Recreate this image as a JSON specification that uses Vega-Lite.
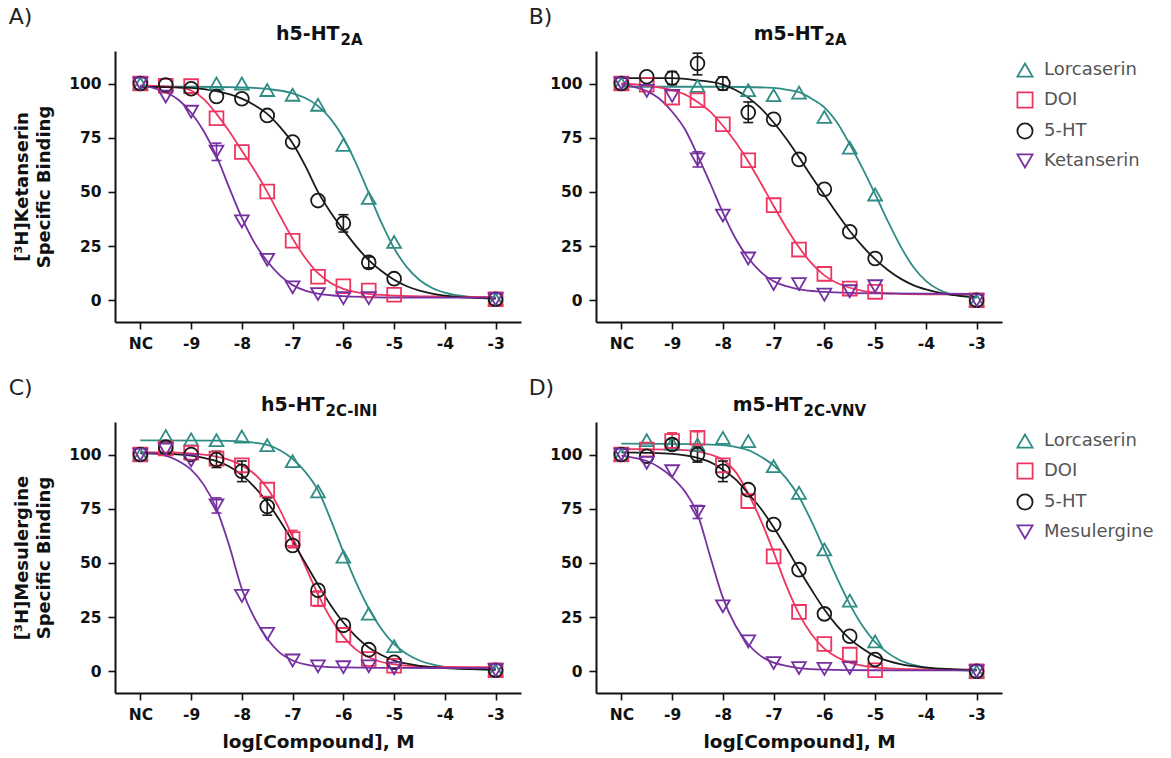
{
"$schema": "https://vega.github.io/schema/vega-lite/v6.json",
"background": "white",
"padding": {"left": 8, "top": 6, "right": 5, "bottom": 5},
"spacing": 25,
"config": {
  "view": {"stroke": null},
  "font": "DejaVu Sans",
  "axis": {"grid": false, "domainColor": "#111", "domainWidth": 2, "tickColor": "#111", "tickWidth": 1.6, "tickSize": 7, "labelFont": "DejaVu Sans", "labelFontWeight": "bold", "labelFontSize": 15.5, "labelColor": "#111", "labelPadding": 7, "labelFlush": false, "labelOverlap": false, "titleFont": "DejaVu Sans", "titleFontWeight": "bold", "titleColor": "#111"},
  "title": {"font": "DejaVu Sans", "fontSize": 22, "fontWeight": "normal", "color": "#222"},
  "legend": {"labelFont": "DejaVu Sans", "labelFontSize": 18, "labelColor": "#555", "symbolOpacity": 1}
},
"datasets": {
"curves": [
{"p":"A","c":"Lorcaserin","x":-10,"y":98.5},{"p":"A","c":"Lorcaserin","x":-9,"y":98.5},{"p":"A","c":"Lorcaserin","x":-8,"y":98.2},{"p":"A","c":"Lorcaserin","x":-7.5,"y":97.5},{"p":"A","c":"Lorcaserin","x":-7,"y":95.5},{"p":"A","c":"Lorcaserin","x":-6.75,"y":93.3},{"p":"A","c":"Lorcaserin","x":-6.5,"y":89.6},{"p":"A","c":"Lorcaserin","x":-6.25,"y":83.7},{"p":"A","c":"Lorcaserin","x":-6,"y":75},{"p":"A","c":"Lorcaserin","x":-5.75,"y":63.2},{"p":"A","c":"Lorcaserin","x":-5.5,"y":49.5},{"p":"A","c":"Lorcaserin","x":-5.25,"y":35.8},{"p":"A","c":"Lorcaserin","x":-5,"y":24},{"p":"A","c":"Lorcaserin","x":-4.75,"y":15.3},{"p":"A","c":"Lorcaserin","x":-4.5,"y":9.4},{"p":"A","c":"Lorcaserin","x":-4.25,"y":5.7},{"p":"A","c":"Lorcaserin","x":-4,"y":3.5},{"p":"A","c":"Lorcaserin","x":-3.5,"y":1.5},{"p":"A","c":"Lorcaserin","x":-3,"y":0.8},
{"p":"A","c":"DOI","x":-10,"y":99},{"p":"A","c":"DOI","x":-9.5,"y":98.7},{"p":"A","c":"DOI","x":-9.25,"y":98.2},{"p":"A","c":"DOI","x":-9,"y":96.8},{"p":"A","c":"DOI","x":-8.75,"y":92.8},{"p":"A","c":"DOI","x":-8.5,"y":86},{"p":"A","c":"DOI","x":-8.25,"y":78},{"p":"A","c":"DOI","x":-8,"y":69},{"p":"A","c":"DOI","x":-7.75,"y":60},{"p":"A","c":"DOI","x":-7.5,"y":50},{"p":"A","c":"DOI","x":-7.25,"y":39},{"p":"A","c":"DOI","x":-7,"y":28.5},{"p":"A","c":"DOI","x":-6.75,"y":19.5},{"p":"A","c":"DOI","x":-6.5,"y":12.5},{"p":"A","c":"DOI","x":-6.25,"y":8},{"p":"A","c":"DOI","x":-6,"y":5.3},{"p":"A","c":"DOI","x":-5.75,"y":3.8},{"p":"A","c":"DOI","x":-5.5,"y":3},{"p":"A","c":"DOI","x":-5,"y":2.2},{"p":"A","c":"DOI","x":-4,"y":1.7},{"p":"A","c":"DOI","x":-3,"y":1.5},
{"p":"A","c":"5-HT","x":-10,"y":98.5},{"p":"A","c":"5-HT","x":-9.5,"y":98.3},{"p":"A","c":"5-HT","x":-9,"y":98},{"p":"A","c":"5-HT","x":-8.5,"y":96.5},{"p":"A","c":"5-HT","x":-8,"y":93},{"p":"A","c":"5-HT","x":-7.75,"y":90},{"p":"A","c":"5-HT","x":-7.5,"y":86},{"p":"A","c":"5-HT","x":-7.25,"y":80},{"p":"A","c":"5-HT","x":-7,"y":72.5},{"p":"A","c":"5-HT","x":-6.75,"y":62},{"p":"A","c":"5-HT","x":-6.5,"y":50},{"p":"A","c":"5-HT","x":-6.25,"y":40.5},{"p":"A","c":"5-HT","x":-6,"y":32.5},{"p":"A","c":"5-HT","x":-5.75,"y":25},{"p":"A","c":"5-HT","x":-5.5,"y":18.5},{"p":"A","c":"5-HT","x":-5.25,"y":13.5},{"p":"A","c":"5-HT","x":-5,"y":9.5},{"p":"A","c":"5-HT","x":-4.75,"y":6.5},{"p":"A","c":"5-HT","x":-4.5,"y":4.5},{"p":"A","c":"5-HT","x":-4.25,"y":3.1},{"p":"A","c":"5-HT","x":-4,"y":2.2},{"p":"A","c":"5-HT","x":-3.5,"y":1.2},{"p":"A","c":"5-HT","x":-3,"y":0.8},
{"p":"A","c":"Ketanserin","x":-10,"y":99},{"p":"A","c":"Ketanserin","x":-9.75,"y":98},{"p":"A","c":"Ketanserin","x":-9.5,"y":96},{"p":"A","c":"Ketanserin","x":-9.25,"y":92.5},{"p":"A","c":"Ketanserin","x":-9,"y":86.5},{"p":"A","c":"Ketanserin","x":-8.75,"y":78},{"p":"A","c":"Ketanserin","x":-8.5,"y":66.5},{"p":"A","c":"Ketanserin","x":-8.25,"y":52},{"p":"A","c":"Ketanserin","x":-8,"y":38},{"p":"A","c":"Ketanserin","x":-7.75,"y":26.5},{"p":"A","c":"Ketanserin","x":-7.5,"y":18},{"p":"A","c":"Ketanserin","x":-7.25,"y":11.5},{"p":"A","c":"Ketanserin","x":-7,"y":7},{"p":"A","c":"Ketanserin","x":-6.75,"y":4.5},{"p":"A","c":"Ketanserin","x":-6.5,"y":3.1},{"p":"A","c":"Ketanserin","x":-6,"y":1.9},{"p":"A","c":"Ketanserin","x":-5.5,"y":1.5},{"p":"A","c":"Ketanserin","x":-5,"y":1.3},{"p":"A","c":"Ketanserin","x":-3,"y":1.2},
{"p":"B","c":"Lorcaserin","x":-10,"y":98.5},{"p":"B","c":"Lorcaserin","x":-8,"y":98.5},{"p":"B","c":"Lorcaserin","x":-7,"y":98},{"p":"B","c":"Lorcaserin","x":-6.75,"y":97.2},{"p":"B","c":"Lorcaserin","x":-6.5,"y":96},{"p":"B","c":"Lorcaserin","x":-6.25,"y":93},{"p":"B","c":"Lorcaserin","x":-6,"y":89},{"p":"B","c":"Lorcaserin","x":-5.75,"y":82},{"p":"B","c":"Lorcaserin","x":-5.5,"y":72},{"p":"B","c":"Lorcaserin","x":-5.25,"y":61},{"p":"B","c":"Lorcaserin","x":-5,"y":49},{"p":"B","c":"Lorcaserin","x":-4.75,"y":36.5},{"p":"B","c":"Lorcaserin","x":-4.5,"y":25},{"p":"B","c":"Lorcaserin","x":-4.25,"y":15.5},{"p":"B","c":"Lorcaserin","x":-4,"y":9},{"p":"B","c":"Lorcaserin","x":-3.75,"y":5},{"p":"B","c":"Lorcaserin","x":-3.5,"y":2.8},{"p":"B","c":"Lorcaserin","x":-3.25,"y":1.8},{"p":"B","c":"Lorcaserin","x":-3,"y":1.3},
{"p":"B","c":"DOI","x":-10,"y":100},{"p":"B","c":"DOI","x":-9.5,"y":99},{"p":"B","c":"DOI","x":-9,"y":97},{"p":"B","c":"DOI","x":-8.75,"y":95},{"p":"B","c":"DOI","x":-8.5,"y":91.5},{"p":"B","c":"DOI","x":-8.25,"y":87},{"p":"B","c":"DOI","x":-8,"y":80.5},{"p":"B","c":"DOI","x":-7.75,"y":73},{"p":"B","c":"DOI","x":-7.5,"y":64},{"p":"B","c":"DOI","x":-7.25,"y":54},{"p":"B","c":"DOI","x":-7,"y":43.5},{"p":"B","c":"DOI","x":-6.75,"y":33.5},{"p":"B","c":"DOI","x":-6.5,"y":24.5},{"p":"B","c":"DOI","x":-6.25,"y":17},{"p":"B","c":"DOI","x":-6,"y":11.5},{"p":"B","c":"DOI","x":-5.75,"y":8},{"p":"B","c":"DOI","x":-5.5,"y":5.8},{"p":"B","c":"DOI","x":-5.25,"y":4.4},{"p":"B","c":"DOI","x":-5,"y":3.6},{"p":"B","c":"DOI","x":-4.5,"y":3},{"p":"B","c":"DOI","x":-4,"y":2.8},{"p":"B","c":"DOI","x":-3,"y":2.7},
{"p":"B","c":"5-HT","x":-10,"y":102.5},{"p":"B","c":"5-HT","x":-9,"y":102.5},{"p":"B","c":"5-HT","x":-8.5,"y":101.5},{"p":"B","c":"5-HT","x":-8,"y":99.5},{"p":"B","c":"5-HT","x":-7.75,"y":97},{"p":"B","c":"5-HT","x":-7.5,"y":93.5},{"p":"B","c":"5-HT","x":-7.25,"y":88.5},{"p":"B","c":"5-HT","x":-7,"y":82},{"p":"B","c":"5-HT","x":-6.75,"y":74.5},{"p":"B","c":"5-HT","x":-6.5,"y":66},{"p":"B","c":"5-HT","x":-6.25,"y":57},{"p":"B","c":"5-HT","x":-6,"y":48.5},{"p":"B","c":"5-HT","x":-5.75,"y":40},{"p":"B","c":"5-HT","x":-5.5,"y":32},{"p":"B","c":"5-HT","x":-5.25,"y":25},{"p":"B","c":"5-HT","x":-5,"y":19},{"p":"B","c":"5-HT","x":-4.75,"y":14},{"p":"B","c":"5-HT","x":-4.5,"y":10},{"p":"B","c":"5-HT","x":-4.25,"y":7},{"p":"B","c":"5-HT","x":-4,"y":5},{"p":"B","c":"5-HT","x":-3.5,"y":2.5},{"p":"B","c":"5-HT","x":-3,"y":1.5},
{"p":"B","c":"Ketanserin","x":-10,"y":99.5},{"p":"B","c":"Ketanserin","x":-9.75,"y":98.5},{"p":"B","c":"Ketanserin","x":-9.5,"y":96.5},{"p":"B","c":"Ketanserin","x":-9.25,"y":93},{"p":"B","c":"Ketanserin","x":-9,"y":87},{"p":"B","c":"Ketanserin","x":-8.75,"y":79},{"p":"B","c":"Ketanserin","x":-8.5,"y":67},{"p":"B","c":"Ketanserin","x":-8.25,"y":54},{"p":"B","c":"Ketanserin","x":-8,"y":40.5},{"p":"B","c":"Ketanserin","x":-7.75,"y":28.5},{"p":"B","c":"Ketanserin","x":-7.5,"y":19.5},{"p":"B","c":"Ketanserin","x":-7.25,"y":13},{"p":"B","c":"Ketanserin","x":-7,"y":8.8},{"p":"B","c":"Ketanserin","x":-6.75,"y":6.5},{"p":"B","c":"Ketanserin","x":-6.5,"y":5},{"p":"B","c":"Ketanserin","x":-6,"y":3.9},{"p":"B","c":"Ketanserin","x":-5.5,"y":3.4},{"p":"B","c":"Ketanserin","x":-5,"y":3.2},{"p":"B","c":"Ketanserin","x":-3,"y":3},
{"p":"C","c":"Lorcaserin","x":-10,"y":106.5},{"p":"C","c":"Lorcaserin","x":-8.5,"y":106.4},{"p":"C","c":"Lorcaserin","x":-8,"y":106},{"p":"C","c":"Lorcaserin","x":-7.5,"y":104.5},{"p":"C","c":"Lorcaserin","x":-7.25,"y":102},{"p":"C","c":"Lorcaserin","x":-7,"y":98},{"p":"C","c":"Lorcaserin","x":-6.75,"y":92},{"p":"C","c":"Lorcaserin","x":-6.5,"y":83.5},{"p":"C","c":"Lorcaserin","x":-6.25,"y":70},{"p":"C","c":"Lorcaserin","x":-6,"y":55},{"p":"C","c":"Lorcaserin","x":-5.75,"y":41},{"p":"C","c":"Lorcaserin","x":-5.5,"y":29},{"p":"C","c":"Lorcaserin","x":-5.25,"y":19.5},{"p":"C","c":"Lorcaserin","x":-5,"y":12.5},{"p":"C","c":"Lorcaserin","x":-4.75,"y":8},{"p":"C","c":"Lorcaserin","x":-4.5,"y":5},{"p":"C","c":"Lorcaserin","x":-4.25,"y":3.2},{"p":"C","c":"Lorcaserin","x":-4,"y":2.1},{"p":"C","c":"Lorcaserin","x":-3.5,"y":1.1},{"p":"C","c":"Lorcaserin","x":-3,"y":0.7},
{"p":"C","c":"DOI","x":-10,"y":101},{"p":"C","c":"DOI","x":-9.5,"y":101},{"p":"C","c":"DOI","x":-9,"y":100.5},{"p":"C","c":"DOI","x":-8.5,"y":99},{"p":"C","c":"DOI","x":-8.25,"y":97.5},{"p":"C","c":"DOI","x":-8,"y":95},{"p":"C","c":"DOI","x":-7.75,"y":91},{"p":"C","c":"DOI","x":-7.5,"y":84.5},{"p":"C","c":"DOI","x":-7.25,"y":74.5},{"p":"C","c":"DOI","x":-7,"y":62},{"p":"C","c":"DOI","x":-6.75,"y":48.5},{"p":"C","c":"DOI","x":-6.5,"y":35.5},{"p":"C","c":"DOI","x":-6.25,"y":24.5},{"p":"C","c":"DOI","x":-6,"y":16},{"p":"C","c":"DOI","x":-5.75,"y":10},{"p":"C","c":"DOI","x":-5.5,"y":6.5},{"p":"C","c":"DOI","x":-5.25,"y":4.3},{"p":"C","c":"DOI","x":-5,"y":3.2},{"p":"C","c":"DOI","x":-4.5,"y":2.3},{"p":"C","c":"DOI","x":-4,"y":2},{"p":"C","c":"DOI","x":-3,"y":1.9},
{"p":"C","c":"5-HT","x":-10,"y":100.5},{"p":"C","c":"5-HT","x":-9.5,"y":100.3},{"p":"C","c":"5-HT","x":-9,"y":99.5},{"p":"C","c":"5-HT","x":-8.75,"y":98.5},{"p":"C","c":"5-HT","x":-8.5,"y":97},{"p":"C","c":"5-HT","x":-8.25,"y":94.5},{"p":"C","c":"5-HT","x":-8,"y":90.5},{"p":"C","c":"5-HT","x":-7.75,"y":85},{"p":"C","c":"5-HT","x":-7.5,"y":78},{"p":"C","c":"5-HT","x":-7.25,"y":69.5},{"p":"C","c":"5-HT","x":-7,"y":60},{"p":"C","c":"5-HT","x":-6.75,"y":50},{"p":"C","c":"5-HT","x":-6.5,"y":40},{"p":"C","c":"5-HT","x":-6.25,"y":30.5},{"p":"C","c":"5-HT","x":-6,"y":22.5},{"p":"C","c":"5-HT","x":-5.75,"y":16},{"p":"C","c":"5-HT","x":-5.5,"y":11},{"p":"C","c":"5-HT","x":-5.25,"y":7.5},{"p":"C","c":"5-HT","x":-5,"y":5},{"p":"C","c":"5-HT","x":-4.75,"y":3.5},{"p":"C","c":"5-HT","x":-4.5,"y":2.5},{"p":"C","c":"5-HT","x":-4,"y":1.5},{"p":"C","c":"5-HT","x":-3,"y":0.8},
{"p":"C","c":"Mesulergine","x":-10,"y":101},{"p":"C","c":"Mesulergine","x":-9.75,"y":100.5},{"p":"C","c":"Mesulergine","x":-9.5,"y":99.5},{"p":"C","c":"Mesulergine","x":-9.25,"y":97},{"p":"C","c":"Mesulergine","x":-9,"y":93},{"p":"C","c":"Mesulergine","x":-8.75,"y":86},{"p":"C","c":"Mesulergine","x":-8.5,"y":75},{"p":"C","c":"Mesulergine","x":-8.25,"y":58},{"p":"C","c":"Mesulergine","x":-8,"y":38},{"p":"C","c":"Mesulergine","x":-7.75,"y":24.5},{"p":"C","c":"Mesulergine","x":-7.5,"y":15},{"p":"C","c":"Mesulergine","x":-7.25,"y":8.5},{"p":"C","c":"Mesulergine","x":-7,"y":5},{"p":"C","c":"Mesulergine","x":-6.75,"y":3.2},{"p":"C","c":"Mesulergine","x":-6.5,"y":2.3},{"p":"C","c":"Mesulergine","x":-6,"y":1.8},{"p":"C","c":"Mesulergine","x":-5,"y":1.6},{"p":"C","c":"Mesulergine","x":-3,"y":1.5},
{"p":"D","c":"Lorcaserin","x":-10,"y":105},{"p":"D","c":"Lorcaserin","x":-8.5,"y":104.8},{"p":"D","c":"Lorcaserin","x":-8,"y":104.3},{"p":"D","c":"Lorcaserin","x":-7.75,"y":103.5},{"p":"D","c":"Lorcaserin","x":-7.5,"y":102},{"p":"D","c":"Lorcaserin","x":-7.25,"y":99},{"p":"D","c":"Lorcaserin","x":-7,"y":95},{"p":"D","c":"Lorcaserin","x":-6.75,"y":89},{"p":"D","c":"Lorcaserin","x":-6.5,"y":80.5},{"p":"D","c":"Lorcaserin","x":-6.25,"y":69},{"p":"D","c":"Lorcaserin","x":-6,"y":56},{"p":"D","c":"Lorcaserin","x":-5.75,"y":43},{"p":"D","c":"Lorcaserin","x":-5.5,"y":31},{"p":"D","c":"Lorcaserin","x":-5.25,"y":21},{"p":"D","c":"Lorcaserin","x":-5,"y":13.5},{"p":"D","c":"Lorcaserin","x":-4.75,"y":8.5},{"p":"D","c":"Lorcaserin","x":-4.5,"y":5},{"p":"D","c":"Lorcaserin","x":-4.25,"y":3},{"p":"D","c":"Lorcaserin","x":-4,"y":1.8},{"p":"D","c":"Lorcaserin","x":-3.5,"y":0.7},{"p":"D","c":"Lorcaserin","x":-3,"y":0.3},
{"p":"D","c":"DOI","x":-10,"y":102.5},{"p":"D","c":"DOI","x":-9,"y":102.3},{"p":"D","c":"DOI","x":-8.5,"y":101.5},{"p":"D","c":"DOI","x":-8.25,"y":100},{"p":"D","c":"DOI","x":-8,"y":97.5},{"p":"D","c":"DOI","x":-7.75,"y":92},{"p":"D","c":"DOI","x":-7.5,"y":82},{"p":"D","c":"DOI","x":-7.25,"y":69.5},{"p":"D","c":"DOI","x":-7,"y":55},{"p":"D","c":"DOI","x":-6.75,"y":39.5},{"p":"D","c":"DOI","x":-6.5,"y":26.5},{"p":"D","c":"DOI","x":-6.25,"y":17},{"p":"D","c":"DOI","x":-6,"y":10.5},{"p":"D","c":"DOI","x":-5.75,"y":6.5},{"p":"D","c":"DOI","x":-5.5,"y":4},{"p":"D","c":"DOI","x":-5.25,"y":2.6},{"p":"D","c":"DOI","x":-5,"y":1.8},{"p":"D","c":"DOI","x":-4.5,"y":1.1},{"p":"D","c":"DOI","x":-4,"y":0.9},{"p":"D","c":"DOI","x":-3,"y":0.8},
{"p":"D","c":"5-HT","x":-10,"y":101},{"p":"D","c":"5-HT","x":-9.5,"y":100.8},{"p":"D","c":"5-HT","x":-9,"y":100.3},{"p":"D","c":"5-HT","x":-8.5,"y":98.5},{"p":"D","c":"5-HT","x":-8.25,"y":96.5},{"p":"D","c":"5-HT","x":-8,"y":93},{"p":"D","c":"5-HT","x":-7.75,"y":88.5},{"p":"D","c":"5-HT","x":-7.5,"y":82},{"p":"D","c":"5-HT","x":-7.25,"y":75},{"p":"D","c":"5-HT","x":-7,"y":66.5},{"p":"D","c":"5-HT","x":-6.75,"y":57},{"p":"D","c":"5-HT","x":-6.5,"y":47},{"p":"D","c":"5-HT","x":-6.25,"y":37.5},{"p":"D","c":"5-HT","x":-6,"y":28.5},{"p":"D","c":"5-HT","x":-5.75,"y":21},{"p":"D","c":"5-HT","x":-5.5,"y":15},{"p":"D","c":"5-HT","x":-5.25,"y":10.5},{"p":"D","c":"5-HT","x":-5,"y":7},{"p":"D","c":"5-HT","x":-4.75,"y":4.8},{"p":"D","c":"5-HT","x":-4.5,"y":3.3},{"p":"D","c":"5-HT","x":-4,"y":1.7},{"p":"D","c":"5-HT","x":-3.5,"y":1},{"p":"D","c":"5-HT","x":-3,"y":0.6},
{"p":"D","c":"Mesulergine","x":-10,"y":99.5},{"p":"D","c":"Mesulergine","x":-9.75,"y":98.5},{"p":"D","c":"Mesulergine","x":-9.5,"y":97},{"p":"D","c":"Mesulergine","x":-9.25,"y":94},{"p":"D","c":"Mesulergine","x":-9,"y":89.5},{"p":"D","c":"Mesulergine","x":-8.75,"y":83},{"p":"D","c":"Mesulergine","x":-8.5,"y":72.5},{"p":"D","c":"Mesulergine","x":-8.25,"y":53},{"p":"D","c":"Mesulergine","x":-8,"y":34},{"p":"D","c":"Mesulergine","x":-7.75,"y":21},{"p":"D","c":"Mesulergine","x":-7.5,"y":12.5},{"p":"D","c":"Mesulergine","x":-7.25,"y":7},{"p":"D","c":"Mesulergine","x":-7,"y":4},{"p":"D","c":"Mesulergine","x":-6.75,"y":2.5},{"p":"D","c":"Mesulergine","x":-6.5,"y":1.5},{"p":"D","c":"Mesulergine","x":-6,"y":0.8},{"p":"D","c":"Mesulergine","x":-5,"y":0.5},{"p":"D","c":"Mesulergine","x":-3,"y":0.4}
],
"points": [
{"p":"A","c":"Lorcaserin","x":-10,"y":100},{"p":"A","c":"Lorcaserin","x":-8.5,"y":100},{"p":"A","c":"Lorcaserin","x":-8,"y":100},{"p":"A","c":"Lorcaserin","x":-7.5,"y":97},{"p":"A","c":"Lorcaserin","x":-7,"y":94.8},{"p":"A","c":"Lorcaserin","x":-6.5,"y":90.2},{"p":"A","c":"Lorcaserin","x":-6,"y":71.7},{"p":"A","c":"Lorcaserin","x":-5.5,"y":47.2},{"p":"A","c":"Lorcaserin","x":-5,"y":26.9},{"p":"A","c":"Lorcaserin","x":-3,"y":0.5},
{"p":"A","c":"DOI","x":-10,"y":100},{"p":"A","c":"DOI","x":-9.5,"y":99},{"p":"A","c":"DOI","x":-9,"y":98.8},{"p":"A","c":"DOI","x":-8.5,"y":84},{"p":"A","c":"DOI","x":-8,"y":68.4},{"p":"A","c":"DOI","x":-7.5,"y":50.2},{"p":"A","c":"DOI","x":-7,"y":27.5},{"p":"A","c":"DOI","x":-6.5,"y":10.9},{"p":"A","c":"DOI","x":-6,"y":6.5},{"p":"A","c":"DOI","x":-5.5,"y":4.5},{"p":"A","c":"DOI","x":-5,"y":2.6},{"p":"A","c":"DOI","x":-3,"y":0.5},
{"p":"A","c":"5-HT","x":-10,"y":100},{"p":"A","c":"5-HT","x":-9.5,"y":99.3},{"p":"A","c":"5-HT","x":-9,"y":97.6},{"p":"A","c":"5-HT","x":-8.5,"y":94},{"p":"A","c":"5-HT","x":-8,"y":93},{"p":"A","c":"5-HT","x":-7.5,"y":85.3},{"p":"A","c":"5-HT","x":-7,"y":73},{"p":"A","c":"5-HT","x":-6.5,"y":46},{"p":"A","c":"5-HT","x":-6,"y":35.6},{"p":"A","c":"5-HT","x":-5.5,"y":17.5},{"p":"A","c":"5-HT","x":-5,"y":10},{"p":"A","c":"5-HT","x":-3,"y":0.5},
{"p":"A","c":"Ketanserin","x":-10,"y":100},{"p":"A","c":"Ketanserin","x":-9.5,"y":94},{"p":"A","c":"Ketanserin","x":-9,"y":87},{"p":"A","c":"Ketanserin","x":-8.5,"y":68.6},{"p":"A","c":"Ketanserin","x":-8,"y":36.4},{"p":"A","c":"Ketanserin","x":-7.5,"y":18.7},{"p":"A","c":"Ketanserin","x":-7,"y":6},{"p":"A","c":"Ketanserin","x":-6.5,"y":2.9},{"p":"A","c":"Ketanserin","x":-6,"y":1},{"p":"A","c":"Ketanserin","x":-5.5,"y":1},{"p":"A","c":"Ketanserin","x":-3,"y":0.5},
{"p":"B","c":"Lorcaserin","x":-10,"y":100},{"p":"B","c":"Lorcaserin","x":-8.5,"y":98.9},{"p":"B","c":"Lorcaserin","x":-7.5,"y":96.9},{"p":"B","c":"Lorcaserin","x":-7,"y":94.6},{"p":"B","c":"Lorcaserin","x":-6.5,"y":95.8},{"p":"B","c":"Lorcaserin","x":-6,"y":84.6},{"p":"B","c":"Lorcaserin","x":-5.5,"y":70.4},{"p":"B","c":"Lorcaserin","x":-5,"y":48.8},{"p":"B","c":"Lorcaserin","x":-3,"y":0},
{"p":"B","c":"DOI","x":-10,"y":100},{"p":"B","c":"DOI","x":-9.5,"y":99.4},{"p":"B","c":"DOI","x":-9,"y":93.5},{"p":"B","c":"DOI","x":-8.5,"y":92.3},{"p":"B","c":"DOI","x":-8,"y":81.2},{"p":"B","c":"DOI","x":-7.5,"y":64.6},{"p":"B","c":"DOI","x":-7,"y":43.9},{"p":"B","c":"DOI","x":-6.5,"y":23.4},{"p":"B","c":"DOI","x":-6,"y":12.2},{"p":"B","c":"DOI","x":-5.5,"y":5.4},{"p":"B","c":"DOI","x":-5,"y":3.9},{"p":"B","c":"DOI","x":-3,"y":0},
{"p":"B","c":"5-HT","x":-10,"y":100},{"p":"B","c":"5-HT","x":-9.5,"y":103.1},{"p":"B","c":"5-HT","x":-9,"y":102.5},{"p":"B","c":"5-HT","x":-8.5,"y":109.2},{"p":"B","c":"5-HT","x":-8,"y":100},{"p":"B","c":"5-HT","x":-7.5,"y":86.6},{"p":"B","c":"5-HT","x":-7,"y":83.5},{"p":"B","c":"5-HT","x":-6.5,"y":65},{"p":"B","c":"5-HT","x":-6,"y":51.2},{"p":"B","c":"5-HT","x":-5.5,"y":31.6},{"p":"B","c":"5-HT","x":-5,"y":19.3},{"p":"B","c":"5-HT","x":-3,"y":0},
{"p":"B","c":"Ketanserin","x":-10,"y":100},{"p":"B","c":"Ketanserin","x":-9.5,"y":96.6},{"p":"B","c":"Ketanserin","x":-9,"y":94.3},{"p":"B","c":"Ketanserin","x":-8.5,"y":65},{"p":"B","c":"Ketanserin","x":-8,"y":39.1},{"p":"B","c":"Ketanserin","x":-7.5,"y":19.3},{"p":"B","c":"Ketanserin","x":-7,"y":7.5},{"p":"B","c":"Ketanserin","x":-6.5,"y":7.5},{"p":"B","c":"Ketanserin","x":-6,"y":2.6},{"p":"B","c":"Ketanserin","x":-5.5,"y":4.2},{"p":"B","c":"Ketanserin","x":-5,"y":6.5},{"p":"B","c":"Ketanserin","x":-3,"y":0},
{"p":"C","c":"Lorcaserin","x":-10,"y":100},{"p":"C","c":"Lorcaserin","x":-9.5,"y":108.5},{"p":"C","c":"Lorcaserin","x":-9,"y":107},{"p":"C","c":"Lorcaserin","x":-8.5,"y":106.6},{"p":"C","c":"Lorcaserin","x":-8,"y":108.3},{"p":"C","c":"Lorcaserin","x":-7.5,"y":104.3},{"p":"C","c":"Lorcaserin","x":-7,"y":96.9},{"p":"C","c":"Lorcaserin","x":-6.5,"y":83},{"p":"C","c":"Lorcaserin","x":-6,"y":52.9},{"p":"C","c":"Lorcaserin","x":-5.5,"y":26.6},{"p":"C","c":"Lorcaserin","x":-5,"y":11.6},{"p":"C","c":"Lorcaserin","x":-3,"y":0.5},
{"p":"C","c":"DOI","x":-10,"y":100},{"p":"C","c":"DOI","x":-9.5,"y":102.8},{"p":"C","c":"DOI","x":-9,"y":100.8},{"p":"C","c":"DOI","x":-8.5,"y":98.1},{"p":"C","c":"DOI","x":-8,"y":95},{"p":"C","c":"DOI","x":-7.5,"y":83.8},{"p":"C","c":"DOI","x":-7,"y":61},{"p":"C","c":"DOI","x":-6.5,"y":33.5},{"p":"C","c":"DOI","x":-6,"y":16.8},{"p":"C","c":"DOI","x":-5.5,"y":5.7},{"p":"C","c":"DOI","x":-5,"y":2.6},{"p":"C","c":"DOI","x":-3,"y":0.5},
{"p":"C","c":"5-HT","x":-10,"y":100},{"p":"C","c":"5-HT","x":-9.5,"y":103.4},{"p":"C","c":"5-HT","x":-9,"y":100},{"p":"C","c":"5-HT","x":-8.5,"y":97.7},{"p":"C","c":"5-HT","x":-8,"y":92.3},{"p":"C","c":"5-HT","x":-7.5,"y":76},{"p":"C","c":"5-HT","x":-7,"y":58},{"p":"C","c":"5-HT","x":-6.5,"y":37.4},{"p":"C","c":"5-HT","x":-6,"y":21.2},{"p":"C","c":"5-HT","x":-5.5,"y":10},{"p":"C","c":"5-HT","x":-5,"y":4.2},{"p":"C","c":"5-HT","x":-3,"y":0.5},
{"p":"C","c":"Mesulergine","x":-10,"y":100},{"p":"C","c":"Mesulergine","x":-9.5,"y":102.3},{"p":"C","c":"Mesulergine","x":-9,"y":97.2},{"p":"C","c":"Mesulergine","x":-8.5,"y":76.5},{"p":"C","c":"Mesulergine","x":-8,"y":34.8},{"p":"C","c":"Mesulergine","x":-7.5,"y":17.3},{"p":"C","c":"Mesulergine","x":-7,"y":5},{"p":"C","c":"Mesulergine","x":-6.5,"y":2.3},{"p":"C","c":"Mesulergine","x":-6,"y":1.9},{"p":"C","c":"Mesulergine","x":-5.5,"y":2.3},{"p":"C","c":"Mesulergine","x":-5,"y":1.4},{"p":"C","c":"Mesulergine","x":-3,"y":0.5},
{"p":"D","c":"Lorcaserin","x":-10,"y":100},{"p":"D","c":"Lorcaserin","x":-9.5,"y":106.6},{"p":"D","c":"Lorcaserin","x":-9,"y":105},{"p":"D","c":"Lorcaserin","x":-8.5,"y":104.6},{"p":"D","c":"Lorcaserin","x":-8,"y":107.7},{"p":"D","c":"Lorcaserin","x":-7.5,"y":106.2},{"p":"D","c":"Lorcaserin","x":-7,"y":94.6},{"p":"D","c":"Lorcaserin","x":-6.5,"y":82.3},{"p":"D","c":"Lorcaserin","x":-6,"y":56.2},{"p":"D","c":"Lorcaserin","x":-5.5,"y":32.6},{"p":"D","c":"Lorcaserin","x":-5,"y":13.8},{"p":"D","c":"Lorcaserin","x":-3,"y":0},
{"p":"D","c":"DOI","x":-10,"y":100},{"p":"D","c":"DOI","x":-9.5,"y":102.3},{"p":"D","c":"DOI","x":-9,"y":106.2},{"p":"D","c":"DOI","x":-8.5,"y":107.7},{"p":"D","c":"DOI","x":-8,"y":95},{"p":"D","c":"DOI","x":-7.5,"y":78.5},{"p":"D","c":"DOI","x":-7,"y":53},{"p":"D","c":"DOI","x":-6.5,"y":27.4},{"p":"D","c":"DOI","x":-6,"y":12.6},{"p":"D","c":"DOI","x":-5.5,"y":7.7},{"p":"D","c":"DOI","x":-5,"y":0.5},{"p":"D","c":"DOI","x":-3,"y":0},
{"p":"D","c":"5-HT","x":-10,"y":100},{"p":"D","c":"5-HT","x":-9.5,"y":99.2},{"p":"D","c":"5-HT","x":-9,"y":104.6},{"p":"D","c":"5-HT","x":-8.5,"y":100},{"p":"D","c":"5-HT","x":-8,"y":92.3},{"p":"D","c":"5-HT","x":-7.5,"y":83.8},{"p":"D","c":"5-HT","x":-7,"y":67.7},{"p":"D","c":"5-HT","x":-6.5,"y":46.9},{"p":"D","c":"5-HT","x":-6,"y":26.5},{"p":"D","c":"5-HT","x":-5.5,"y":16.2},{"p":"D","c":"5-HT","x":-5,"y":5.4},{"p":"D","c":"5-HT","x":-3,"y":0},
{"p":"D","c":"Mesulergine","x":-10,"y":100},{"p":"D","c":"Mesulergine","x":-9.5,"y":96.2},{"p":"D","c":"Mesulergine","x":-9,"y":92.3},{"p":"D","c":"Mesulergine","x":-8.5,"y":73.5},{"p":"D","c":"Mesulergine","x":-8,"y":30},{"p":"D","c":"Mesulergine","x":-7.5,"y":13.8},{"p":"D","c":"Mesulergine","x":-7,"y":3.8},{"p":"D","c":"Mesulergine","x":-6.5,"y":1.5},{"p":"D","c":"Mesulergine","x":-6,"y":1.1},{"p":"D","c":"Mesulergine","x":-5.5,"y":1.5},{"p":"D","c":"Mesulergine","x":-3,"y":0}
],
"errs": [
{"p":"A","c":"5-HT","x":-6,"lo":31.5,"hi":39.5},{"p":"A","c":"5-HT","x":-5.5,"lo":15,"hi":20},{"p":"A","c":"Ketanserin","x":-8.5,"lo":64.5,"hi":72.5},
{"p":"B","c":"5-HT","x":-9,"lo":99.5,"hi":105.5},{"p":"B","c":"5-HT","x":-8.5,"lo":104,"hi":114},{"p":"B","c":"5-HT","x":-8,"lo":97,"hi":103},{"p":"B","c":"5-HT","x":-7.5,"lo":82,"hi":91.5},{"p":"B","c":"Ketanserin","x":-8.5,"lo":61.5,"hi":68.5},
{"p":"C","c":"5-HT","x":-8.5,"lo":94,"hi":101.5},{"p":"C","c":"5-HT","x":-8,"lo":87.5,"hi":97},{"p":"C","c":"5-HT","x":-7.5,"lo":72,"hi":80},{"p":"C","c":"DOI","x":-7,"lo":57,"hi":65},{"p":"C","c":"DOI","x":-6.5,"lo":30,"hi":37},{"p":"C","c":"Mesulergine","x":-8.5,"lo":73,"hi":80},
{"p":"D","c":"DOI","x":-9,"lo":102.5,"hi":110},{"p":"D","c":"DOI","x":-8.5,"lo":104.5,"hi":110.5},{"p":"D","c":"5-HT","x":-8.5,"lo":96.5,"hi":103.5},{"p":"D","c":"5-HT","x":-8,"lo":87.5,"hi":97},{"p":"D","c":"Mesulergine","x":-8.5,"lo":70.5,"hi":76.5},{"p":"D","c":"5-HT","x":-9,"lo":102,"hi":107}
]
},
"resolve": {"scale": {"color": "independent", "shape": "independent"}},
"vconcat": [
{"hconcat": [
 {"width": 406, "height": 271,
  "title": {"text": "A)", "anchor": "start", "frame": "bounds", "dx": -5, "offset": -5},
  "layer": [
   {"data": {"name": "curves"}, "transform": [{"filter": "datum.p == 'A'"}],
    "mark": {"type": "line", "interpolate": "monotone", "strokeWidth": 1.8},
    "encoding": {
     "x": {"field": "x", "type": "quantitative", "scale": {"domain": [-10.5, -2.5], "nice": false, "zero": false}, "axis": {"values": [-10,-9,-8,-7,-6,-5,-4,-3], "labelExpr": "datum.value == -10 ? 'NC' : '-' + abs(datum.value)", "title": null}},
     "y": {"field": "y", "type": "quantitative", "scale": {"domain": [-10, 115], "nice": false, "zero": false}, "axis": {"values": [0,25,50,75,100], "title": ["[³H]Ketanserin", "Specific Binding"], "titleFontSize": 18, "titleLineHeight": 22, "titlePadding": 15}},
     "color": {"field": "c", "type": "nominal", "scale": {"domain": ["Lorcaserin","DOI","5-HT","Ketanserin"], "range": ["#2E8C85","#EE3560","#1A1A1A","#7530A0"]}, "legend": null}}},
   {"data": {"name": "errs"}, "transform": [{"filter": "datum.p == 'A'"}],
    "mark": {"type": "rule", "strokeWidth": 1.6},
    "encoding": {
     "x": {"field": "x", "type": "quantitative", "scale": {"domain": [-10.5, -2.5], "nice": false, "zero": false}, "axis": null},
     "y": {"field": "lo", "type": "quantitative", "scale": {"domain": [-10, 115], "nice": false, "zero": false}, "axis": null},
     "y2": {"field": "hi"},
     "color": {"field": "c", "type": "nominal", "scale": {"domain": ["Lorcaserin","DOI","5-HT","Ketanserin"], "range": ["#2E8C85","#EE3560","#1A1A1A","#7530A0"]}, "legend": null}}},
   {"data": {"name": "errs"}, "transform": [{"filter": "datum.p == 'A'"}],
    "mark": {"type": "point", "shape": "M-1,0L1,0", "filled": false, "size": 100, "strokeWidth": 1.6, "opacity": 1},
    "encoding": {
     "x": {"field": "x", "type": "quantitative", "scale": {"domain": [-10.5, -2.5], "nice": false, "zero": false}, "axis": null},
     "y": {"field": "lo", "type": "quantitative", "scale": {"domain": [-10, 115], "nice": false, "zero": false}, "axis": null},
     "color": {"field": "c", "type": "nominal", "scale": {"domain": ["Lorcaserin","DOI","5-HT","Ketanserin"], "range": ["#2E8C85","#EE3560","#1A1A1A","#7530A0"]}, "legend": null}}},
   {"data": {"name": "errs"}, "transform": [{"filter": "datum.p == 'A'"}],
    "mark": {"type": "point", "shape": "M-1,0L1,0", "filled": false, "size": 100, "strokeWidth": 1.6, "opacity": 1},
    "encoding": {
     "x": {"field": "x", "type": "quantitative", "scale": {"domain": [-10.5, -2.5], "nice": false, "zero": false}, "axis": null},
     "y": {"field": "hi", "type": "quantitative", "scale": {"domain": [-10, 115], "nice": false, "zero": false}, "axis": null},
     "color": {"field": "c", "type": "nominal", "scale": {"domain": ["Lorcaserin","DOI","5-HT","Ketanserin"], "range": ["#2E8C85","#EE3560","#1A1A1A","#7530A0"]}, "legend": null}}},
   {"data": {"name": "points"}, "transform": [{"filter": "datum.p == 'A'"}],
    "mark": {"type": "point", "filled": false, "size": 190, "strokeWidth": 1.8, "opacity": 1},
    "encoding": {
     "x": {"field": "x", "type": "quantitative", "scale": {"domain": [-10.5, -2.5], "nice": false, "zero": false}, "axis": {"orient": "top", "domain": false, "ticks": false, "labels": false, "title": "h5-HT", "titleFontSize": 19, "titleAlign": "right", "titleX": 224, "titleY": -12, "titleBaseline": "alphabetic"}},
     "y": {"field": "y", "type": "quantitative", "scale": {"domain": [-10, 115], "nice": false, "zero": false}, "axis": {"orient": "right", "domain": false, "ticks": false, "labels": false, "title": "2A", "titleAngle": 0, "titleFontSize": 15, "titleAlign": "left", "titleX": -181, "titleY": -7, "titleBaseline": "alphabetic"}},
     "color": {"field": "c", "type": "nominal", "scale": {"domain": ["Lorcaserin","DOI","5-HT","Ketanserin"], "range": ["#2E8C85","#EE3560","#1A1A1A","#7530A0"]}, "legend": null},
     "shape": {"field": "c", "type": "nominal", "scale": {"domain": ["Lorcaserin","DOI","5-HT","Ketanserin"], "range": ["triangle-up","square","circle","triangle-down"]}, "legend": null}}}
  ],
  "resolve": {"axis": {"x": "independent", "y": "independent"}}
 },
 {"width": 406, "height": 271,
  "title": {"text": "B)", "anchor": "start", "frame": "bounds", "dx": -21, "offset": -5},
  "layer": [
   {"data": {"name": "curves"}, "transform": [{"filter": "datum.p == 'B'"}],
    "mark": {"type": "line", "interpolate": "monotone", "strokeWidth": 1.8},
    "encoding": {
     "x": {"field": "x", "type": "quantitative", "scale": {"domain": [-10.5, -2.5], "nice": false, "zero": false}, "axis": {"values": [-10,-9,-8,-7,-6,-5,-4,-3], "labelExpr": "datum.value == -10 ? 'NC' : '-' + abs(datum.value)", "title": null}},
     "y": {"field": "y", "type": "quantitative", "scale": {"domain": [-10, 115], "nice": false, "zero": false}, "axis": {"values": [0,25,50,75,100], "title": null}},
     "color": {"field": "c", "type": "nominal", "scale": {"domain": ["Lorcaserin","DOI","5-HT","Ketanserin"], "range": ["#2E8C85","#EE3560","#1A1A1A","#7530A0"]}}}},
   {"data": {"name": "errs"}, "transform": [{"filter": "datum.p == 'B'"}],
    "mark": {"type": "rule", "strokeWidth": 1.6},
    "encoding": {
     "x": {"field": "x", "type": "quantitative", "scale": {"domain": [-10.5, -2.5], "nice": false, "zero": false}, "axis": null},
     "y": {"field": "lo", "type": "quantitative", "scale": {"domain": [-10, 115], "nice": false, "zero": false}, "axis": null},
     "y2": {"field": "hi"},
     "color": {"field": "c", "type": "nominal", "scale": {"domain": ["Lorcaserin","DOI","5-HT","Ketanserin"], "range": ["#2E8C85","#EE3560","#1A1A1A","#7530A0"]}}}},
   {"data": {"name": "errs"}, "transform": [{"filter": "datum.p == 'B'"}],
    "mark": {"type": "point", "shape": "M-1,0L1,0", "filled": false, "size": 100, "strokeWidth": 1.6, "opacity": 1},
    "encoding": {
     "x": {"field": "x", "type": "quantitative", "scale": {"domain": [-10.5, -2.5], "nice": false, "zero": false}, "axis": null},
     "y": {"field": "lo", "type": "quantitative", "scale": {"domain": [-10, 115], "nice": false, "zero": false}, "axis": null},
     "color": {"field": "c", "type": "nominal", "scale": {"domain": ["Lorcaserin","DOI","5-HT","Ketanserin"], "range": ["#2E8C85","#EE3560","#1A1A1A","#7530A0"]}}}},
   {"data": {"name": "errs"}, "transform": [{"filter": "datum.p == 'B'"}],
    "mark": {"type": "point", "shape": "M-1,0L1,0", "filled": false, "size": 100, "strokeWidth": 1.6, "opacity": 1},
    "encoding": {
     "x": {"field": "x", "type": "quantitative", "scale": {"domain": [-10.5, -2.5], "nice": false, "zero": false}, "axis": null},
     "y": {"field": "hi", "type": "quantitative", "scale": {"domain": [-10, 115], "nice": false, "zero": false}, "axis": null},
     "color": {"field": "c", "type": "nominal", "scale": {"domain": ["Lorcaserin","DOI","5-HT","Ketanserin"], "range": ["#2E8C85","#EE3560","#1A1A1A","#7530A0"]}}}},
   {"data": {"name": "points"}, "transform": [{"filter": "datum.p == 'B'"}],
    "mark": {"type": "point", "filled": false, "size": 190, "strokeWidth": 1.8, "opacity": 1},
    "encoding": {
     "x": {"field": "x", "type": "quantitative", "scale": {"domain": [-10.5, -2.5], "nice": false, "zero": false}, "axis": {"orient": "top", "domain": false, "ticks": false, "labels": false, "title": "m5-HT", "titleFontSize": 19, "titleAlign": "right", "titleX": 227, "titleY": -12, "titleBaseline": "alphabetic"}},
     "y": {"field": "y", "type": "quantitative", "scale": {"domain": [-10, 115], "nice": false, "zero": false}, "axis": {"orient": "right", "domain": false, "ticks": false, "labels": false, "title": "2A", "titleAngle": 0, "titleFontSize": 15, "titleAlign": "left", "titleX": -178, "titleY": -7, "titleBaseline": "alphabetic"}},
     "color": {"field": "c", "type": "nominal", "scale": {"domain": ["Lorcaserin","DOI","5-HT","Ketanserin"], "range": ["#2E8C85","#EE3560","#1A1A1A","#7530A0"]},
       "legend": {"title": null, "orient": "right", "offset": 4, "padding": 10, "rowPadding": 7, "labelOffset": 10, "symbolSize": 230, "symbolStrokeWidth": 1.8}},
     "shape": {"field": "c", "type": "nominal", "scale": {"domain": ["Lorcaserin","DOI","5-HT","Ketanserin"], "range": ["triangle-up","square","circle","triangle-down"]},
       "legend": {"title": null, "orient": "right", "offset": 4, "padding": 10, "rowPadding": 7, "labelOffset": 10, "symbolSize": 230, "symbolStrokeWidth": 1.8}}}}
  ],
  "resolve": {"axis": {"x": "independent", "y": "independent"}}
 }
], "spacing": 7, "resolve": {"scale": {"color": "independent", "shape": "independent"}}},
{"hconcat": [
 {"width": 406, "height": 271,
  "title": {"text": "C)", "anchor": "start", "frame": "bounds", "dx": -5, "offset": -5},
  "layer": [
   {"data": {"name": "curves"}, "transform": [{"filter": "datum.p == 'C'"}],
    "mark": {"type": "line", "interpolate": "monotone", "strokeWidth": 1.8},
    "encoding": {
     "x": {"field": "x", "type": "quantitative", "scale": {"domain": [-10.5, -2.5], "nice": false, "zero": false}, "axis": {"values": [-10,-9,-8,-7,-6,-5,-4,-3], "labelExpr": "datum.value == -10 ? 'NC' : '-' + abs(datum.value)", "title": "log[Compound], M", "titleFontSize": 18.5, "titlePadding": 10}},
     "y": {"field": "y", "type": "quantitative", "scale": {"domain": [-10, 115], "nice": false, "zero": false}, "axis": {"values": [0,25,50,75,100], "title": ["[³H]Mesulergine", "Specific Binding"], "titleFontSize": 18, "titleLineHeight": 22, "titlePadding": 15}},
     "color": {"field": "c", "type": "nominal", "scale": {"domain": ["Lorcaserin","DOI","5-HT","Mesulergine"], "range": ["#2E8C85","#EE3560","#1A1A1A","#7530A0"]}, "legend": null}}},
   {"data": {"name": "errs"}, "transform": [{"filter": "datum.p == 'C'"}],
    "mark": {"type": "rule", "strokeWidth": 1.6},
    "encoding": {
     "x": {"field": "x", "type": "quantitative", "scale": {"domain": [-10.5, -2.5], "nice": false, "zero": false}, "axis": null},
     "y": {"field": "lo", "type": "quantitative", "scale": {"domain": [-10, 115], "nice": false, "zero": false}, "axis": null},
     "y2": {"field": "hi"},
     "color": {"field": "c", "type": "nominal", "scale": {"domain": ["Lorcaserin","DOI","5-HT","Mesulergine"], "range": ["#2E8C85","#EE3560","#1A1A1A","#7530A0"]}, "legend": null}}},
   {"data": {"name": "errs"}, "transform": [{"filter": "datum.p == 'C'"}],
    "mark": {"type": "point", "shape": "M-1,0L1,0", "filled": false, "size": 100, "strokeWidth": 1.6, "opacity": 1},
    "encoding": {
     "x": {"field": "x", "type": "quantitative", "scale": {"domain": [-10.5, -2.5], "nice": false, "zero": false}, "axis": null},
     "y": {"field": "lo", "type": "quantitative", "scale": {"domain": [-10, 115], "nice": false, "zero": false}, "axis": null},
     "color": {"field": "c", "type": "nominal", "scale": {"domain": ["Lorcaserin","DOI","5-HT","Mesulergine"], "range": ["#2E8C85","#EE3560","#1A1A1A","#7530A0"]}, "legend": null}}},
   {"data": {"name": "errs"}, "transform": [{"filter": "datum.p == 'C'"}],
    "mark": {"type": "point", "shape": "M-1,0L1,0", "filled": false, "size": 100, "strokeWidth": 1.6, "opacity": 1},
    "encoding": {
     "x": {"field": "x", "type": "quantitative", "scale": {"domain": [-10.5, -2.5], "nice": false, "zero": false}, "axis": null},
     "y": {"field": "hi", "type": "quantitative", "scale": {"domain": [-10, 115], "nice": false, "zero": false}, "axis": null},
     "color": {"field": "c", "type": "nominal", "scale": {"domain": ["Lorcaserin","DOI","5-HT","Mesulergine"], "range": ["#2E8C85","#EE3560","#1A1A1A","#7530A0"]}, "legend": null}}},
   {"data": {"name": "points"}, "transform": [{"filter": "datum.p == 'C'"}],
    "mark": {"type": "point", "filled": false, "size": 190, "strokeWidth": 1.8, "opacity": 1},
    "encoding": {
     "x": {"field": "x", "type": "quantitative", "scale": {"domain": [-10.5, -2.5], "nice": false, "zero": false}, "axis": {"orient": "top", "domain": false, "ticks": false, "labels": false, "title": "h5-HT", "titleFontSize": 19, "titleAlign": "right", "titleX": 209, "titleY": -12, "titleBaseline": "alphabetic"}},
     "y": {"field": "y", "type": "quantitative", "scale": {"domain": [-10, 115], "nice": false, "zero": false}, "axis": {"orient": "right", "domain": false, "ticks": false, "labels": false, "title": "2C-INI", "titleAngle": 0, "titleFontSize": 15, "titleAlign": "left", "titleX": -196, "titleY": -7, "titleBaseline": "alphabetic"}},
     "color": {"field": "c", "type": "nominal", "scale": {"domain": ["Lorcaserin","DOI","5-HT","Mesulergine"], "range": ["#2E8C85","#EE3560","#1A1A1A","#7530A0"]}, "legend": null},
     "shape": {"field": "c", "type": "nominal", "scale": {"domain": ["Lorcaserin","DOI","5-HT","Mesulergine"], "range": ["triangle-up","square","circle","triangle-down"]}, "legend": null}}}
  ],
  "resolve": {"axis": {"x": "independent", "y": "independent"}}
 },
 {"width": 406, "height": 271,
  "title": {"text": "D)", "anchor": "start", "frame": "bounds", "dx": -21, "offset": -5},
  "layer": [
   {"data": {"name": "curves"}, "transform": [{"filter": "datum.p == 'D'"}],
    "mark": {"type": "line", "interpolate": "monotone", "strokeWidth": 1.8},
    "encoding": {
     "x": {"field": "x", "type": "quantitative", "scale": {"domain": [-10.5, -2.5], "nice": false, "zero": false}, "axis": {"values": [-10,-9,-8,-7,-6,-5,-4,-3], "labelExpr": "datum.value == -10 ? 'NC' : '-' + abs(datum.value)", "title": "log[Compound], M", "titleFontSize": 18.5, "titlePadding": 10}},
     "y": {"field": "y", "type": "quantitative", "scale": {"domain": [-10, 115], "nice": false, "zero": false}, "axis": {"values": [0,25,50,75,100], "title": null}},
     "color": {"field": "c", "type": "nominal", "scale": {"domain": ["Lorcaserin","DOI","5-HT","Mesulergine"], "range": ["#2E8C85","#EE3560","#1A1A1A","#7530A0"]}}}},
   {"data": {"name": "errs"}, "transform": [{"filter": "datum.p == 'D'"}],
    "mark": {"type": "rule", "strokeWidth": 1.6},
    "encoding": {
     "x": {"field": "x", "type": "quantitative", "scale": {"domain": [-10.5, -2.5], "nice": false, "zero": false}, "axis": null},
     "y": {"field": "lo", "type": "quantitative", "scale": {"domain": [-10, 115], "nice": false, "zero": false}, "axis": null},
     "y2": {"field": "hi"},
     "color": {"field": "c", "type": "nominal", "scale": {"domain": ["Lorcaserin","DOI","5-HT","Mesulergine"], "range": ["#2E8C85","#EE3560","#1A1A1A","#7530A0"]}}}},
   {"data": {"name": "errs"}, "transform": [{"filter": "datum.p == 'D'"}],
    "mark": {"type": "point", "shape": "M-1,0L1,0", "filled": false, "size": 100, "strokeWidth": 1.6, "opacity": 1},
    "encoding": {
     "x": {"field": "x", "type": "quantitative", "scale": {"domain": [-10.5, -2.5], "nice": false, "zero": false}, "axis": null},
     "y": {"field": "lo", "type": "quantitative", "scale": {"domain": [-10, 115], "nice": false, "zero": false}, "axis": null},
     "color": {"field": "c", "type": "nominal", "scale": {"domain": ["Lorcaserin","DOI","5-HT","Mesulergine"], "range": ["#2E8C85","#EE3560","#1A1A1A","#7530A0"]}}}},
   {"data": {"name": "errs"}, "transform": [{"filter": "datum.p == 'D'"}],
    "mark": {"type": "point", "shape": "M-1,0L1,0", "filled": false, "size": 100, "strokeWidth": 1.6, "opacity": 1},
    "encoding": {
     "x": {"field": "x", "type": "quantitative", "scale": {"domain": [-10.5, -2.5], "nice": false, "zero": false}, "axis": null},
     "y": {"field": "hi", "type": "quantitative", "scale": {"domain": [-10, 115], "nice": false, "zero": false}, "axis": null},
     "color": {"field": "c", "type": "nominal", "scale": {"domain": ["Lorcaserin","DOI","5-HT","Mesulergine"], "range": ["#2E8C85","#EE3560","#1A1A1A","#7530A0"]}}}},
   {"data": {"name": "points"}, "transform": [{"filter": "datum.p == 'D'"}],
    "mark": {"type": "point", "filled": false, "size": 190, "strokeWidth": 1.8, "opacity": 1},
    "encoding": {
     "x": {"field": "x", "type": "quantitative", "scale": {"domain": [-10.5, -2.5], "nice": false, "zero": false}, "axis": {"orient": "top", "domain": false, "ticks": false, "labels": false, "title": "m5-HT", "titleFontSize": 19, "titleAlign": "right", "titleX": 206, "titleY": -12, "titleBaseline": "alphabetic"}},
     "y": {"field": "y", "type": "quantitative", "scale": {"domain": [-10, 115], "nice": false, "zero": false}, "axis": {"orient": "right", "domain": false, "ticks": false, "labels": false, "title": "2C-VNV", "titleAngle": 0, "titleFontSize": 15, "titleAlign": "left", "titleX": -199, "titleY": -7, "titleBaseline": "alphabetic"}},
     "color": {"field": "c", "type": "nominal", "scale": {"domain": ["Lorcaserin","DOI","5-HT","Mesulergine"], "range": ["#2E8C85","#EE3560","#1A1A1A","#7530A0"]},
       "legend": {"title": null, "orient": "right", "offset": 4, "padding": 10, "rowPadding": 7, "labelOffset": 10, "symbolSize": 230, "symbolStrokeWidth": 1.8}},
     "shape": {"field": "c", "type": "nominal", "scale": {"domain": ["Lorcaserin","DOI","5-HT","Mesulergine"], "range": ["triangle-up","square","circle","triangle-down"]},
       "legend": {"title": null, "orient": "right", "offset": 4, "padding": 10, "rowPadding": 7, "labelOffset": 10, "symbolSize": 230, "symbolStrokeWidth": 1.8}}}}
  ],
  "resolve": {"axis": {"x": "independent", "y": "independent"}}
 }
], "spacing": 7, "resolve": {"scale": {"color": "independent", "shape": "independent"}}}
]
}
